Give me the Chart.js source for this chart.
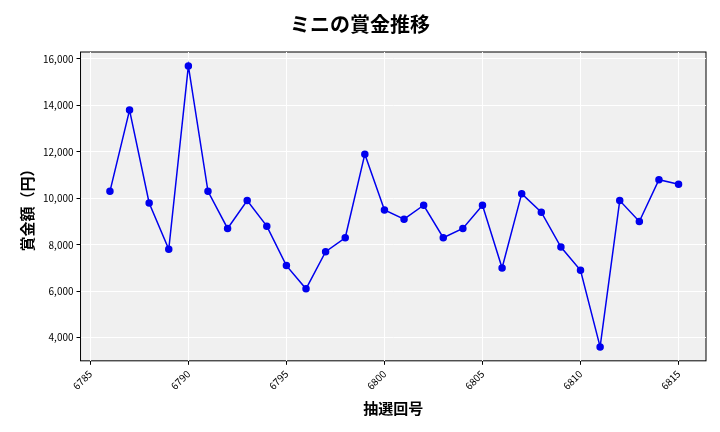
<!DOCTYPE html>
<html>
<head>
<meta charset="utf-8">
<script src="https://cdn.jsdelivr.net/npm/chart.js@4"></script>
<style>
  body { margin: 0; background: #fff; }
  #wrap { width: 720px; height: 432px; }
</style>
</head>
<body>
<div id="wrap"><canvas id="chart"></canvas></div>
<script>
var draws = [6786, 6787, 6788, 6789, 6790, 6791, 6792, 6793, 6794, 6795,
  6796, 6797, 6798, 6799, 6800, 6801, 6802, 6803, 6804, 6805,
  6806, 6807, 6808, 6809, 6810, 6811, 6812, 6813, 6814, 6815];
var prizes = [10300, 13800, 9800, 7800, 15700, 10300, 8700, 9900, 8800, 7100,
  6100, 7700, 8300, 11900, 9500, 9100, 9700, 8300, 8700, 9700,
  7000, 10200, 9400, 7900, 6900, 3600, 9900, 9000, 10800, 10600];

var font = "'Noto Sans CJK JP', 'Noto Sans', sans-serif";

var bgPlugin = {
  id: 'plotBg',
  beforeDraw: function (c) {
    var a = c.chartArea, ctx = c.ctx;
    ctx.save();
    ctx.fillStyle = '#f0f0f0';
    ctx.fillRect(a.left, a.top, a.right - a.left, a.bottom - a.top);
    ctx.strokeStyle = '#000';
    ctx.lineWidth = 1;
    ctx.strokeRect(a.left, a.top, a.right - a.left, a.bottom - a.top);
    ctx.restore();
  }
};

new Chart(document.getElementById('chart'), {
  type: 'line',
  data: {
    datasets: [{
      data: draws.map(function (d, i) { return { x: d, y: prizes[i] }; }),
      borderColor: '#0000ee',
      backgroundColor: '#0000ee',
      borderWidth: 1.5,
      pointRadius: 3,
      tension: 0
    }]
  },
  options: {
    responsive: true,
    maintainAspectRatio: false,
    animation: false,
    layout: { padding: { left: 14, right: 14, top: 8, bottom: 11 } },
    plugins: {
      legend: { display: false },
      title: {
        display: true, text: 'ミニの賞金推移', color: '#000',
        font: { family: font, size: 20, weight: 'bold' },
        padding: { top: 4, bottom: 16 }
      }
    },
    scales: {
      x: {
        type: 'linear', min: 6784.5, max: 6816.4,
        afterBuildTicks: function (s) {
          s.ticks = [6785, 6790, 6795, 6800, 6805, 6810, 6815].map(function (v) { return { value: v }; });
        },
        grid: { color: '#ffffff', lineWidth: 1, drawTicks: true, tickColor: '#000', tickLength: 4 },
        border: { display: false },
        ticks: { color: '#000', maxRotation: 45, minRotation: 45, font: { family: font, size: 10 },
          callback: function (v) { return String(v); } },
        title: { display: true, text: '抽選回号', color: '#000', font: { family: font, size: 15, weight: 'bold' } }
      },
      y: {
        min: 3000, max: 16300,
        afterBuildTicks: function (s) {
          s.ticks = [4000, 6000, 8000, 10000, 12000, 14000, 16000].map(function (v) { return { value: v }; });
        },
        grid: { color: '#ffffff', lineWidth: 1, tickColor: '#000', tickLength: 4 },
        border: { display: false },
        ticks: { color: '#000', font: { family: font, size: 10 },
          callback: function (v) { return v.toLocaleString('en-US'); } },
        title: { display: true, text: '賞金額（円）', color: '#000', font: { family: font, size: 15, weight: 'bold' } }
      }
    }
  },
  plugins: [bgPlugin]
});
</script>
</body>
</html>
